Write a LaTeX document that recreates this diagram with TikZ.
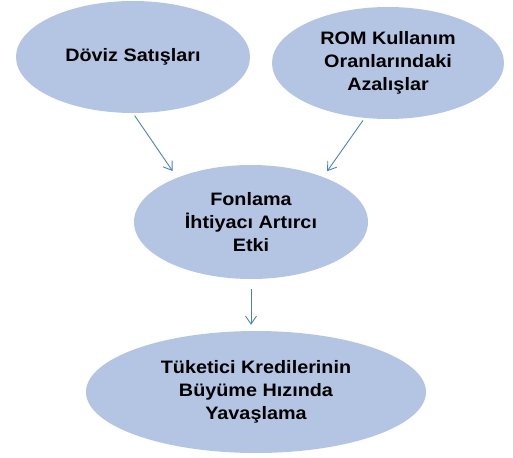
\documentclass[tikz,border=0pt]{standalone}
\usepackage{fontspec}
\setmainfont{Liberation Sans}[FakeStretch=1.1]
\usetikzlibrary{shapes.geometric,arrows.meta}
\definecolor{ellfill}{RGB}{180,197,228}
\definecolor{arrblue}{RGB}{79,129,189}
\tikzset{
  oval/.style={ellipse, fill=ellfill, draw=none, inner sep=0pt, align=center,
    font=\fontsize{18}{23}\selectfont\bfseries},
  arr/.style={draw=arrblue, line width=0.9pt, -{Straight Barb[length=8pt,width=11pt]}}
}
\begin{document}
\begin{tikzpicture}[x=1pt,y=-1pt]
\useasboundingbox (0,0) rectangle (513,457);
\node[oval, minimum width=234pt, minimum height=112pt] (dov) at (133,57) {Döviz Satışları};
\node[oval, minimum width=232pt, minimum height=112pt] (rom) at (388,63) {ROM Kullanım\\Oranlarındaki\\Azalışlar};
\node[oval, minimum width=234pt, minimum height=114pt] (fon) at (251,222) {Fonlama\\İhtiyacı Artırcı\\Etki};
\node[oval, minimum width=340pt, minimum height=122pt] (tuk) at (256,392) {Tüketici Kredilerinin\\Büyüme Hızında\\Yavaşlama};
\draw[arr, shorten <=3pt, shorten >=8pt] (dov.south) -- (fon.149);
\draw[arr, shorten <=3pt, shorten >=7pt] (rom.247) -- (fon.32);
\draw[arr, shorten <=10pt, shorten >=6pt] (fon.south) -- (fon.south |- tuk.north);
\end{tikzpicture}
\end{document}
